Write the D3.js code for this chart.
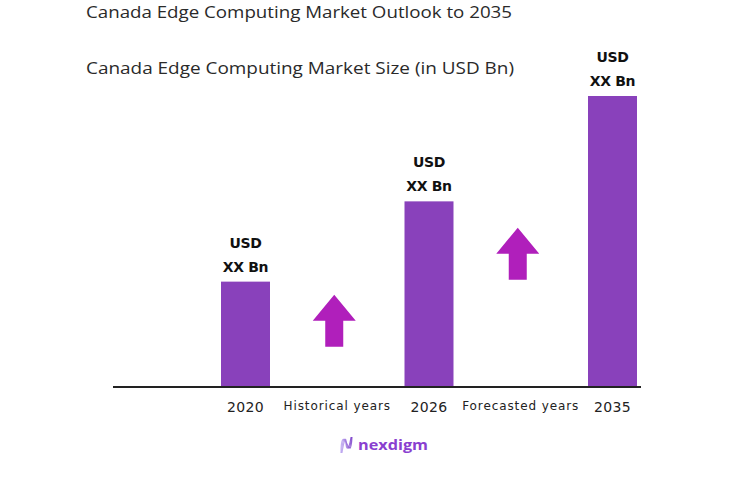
<!DOCTYPE html>
<html>
<head>
<meta charset="utf-8">
<script src="https://cdn.jsdelivr.net/npm/d3@7"></script>
<style>
  body { margin: 0; background: #fff; }
  svg { font-family: "Open Sans", "Liberation Sans", sans-serif; }
</style>
</head>
<body>
<div id="chart"></div>
<script>
// chart data
const slots = ["2020", "Historical years", "2026", "Forecasted years", "2035"];
const barYears = ["2020", "2026", "2035"];
const barValues = [105, 185, 290];          // relative heights, values shown as "XX"
const barLabels = ["USD", "XX Bn"];
const arrowSlots = ["Historical years", "Forecasted years"];
const arrowBase = [40, 107];                // where each growth arrow starts
const title = "Canada Edge Computing Market Outlook to 2035";
const subtitle = "Canada Edge Computing Market Size (in USD Bn)";

const width = 733, height = 480;
const barColor = "#8941bb", arrowColor = "#b01fbb";

const svg = d3.select("#chart")
  .append("svg")
  .attr("width", width)
  .attr("height", height);

const x = d3.scaleBand()
  .domain(slots)
  .range([221, 637])
  .paddingInner(0.466)
  .paddingOuter(0);

const y = d3.scaleLinear()
  .domain([0, 290])
  .range([387, 96]);

// titles
svg.append("text")
  .attr("x", 86).attr("y", 18)
  .attr("fill", "#2a2a2a")
  .style("font-size", "16px")
  .attr("textLength", 426).attr("lengthAdjust", "spacingAndGlyphs")
  .text(title);

svg.append("text")
  .attr("x", 86).attr("y", 74)
  .attr("fill", "#2a2a2a")
  .style("font-size", "16px")
  .attr("textLength", 428).attr("lengthAdjust", "spacingAndGlyphs")
  .text(subtitle);

// bars
const bars = barYears.map((d, i) => ({ year: d, value: barValues[i] }));

svg.append("g")
  .selectAll("rect")
  .data(bars)
  .join("rect")
  .attr("x", d => x(d.year))
  .attr("width", x.bandwidth())
  .attr("y", d => y(d.value))
  .attr("height", d => y(0) - y(d.value))
  .attr("fill", barColor);

// value labels above bars
const lbl = svg.append("g")
  .attr("text-anchor", "middle")
  .attr("fill", "#111")
  .style("font-family", "'DejaVu Sans', sans-serif")
  .style("font-size", "14px")
  .style("font-weight", "bold")
  .style("letter-spacing", "-0.3px");

lbl.selectAll("text.l1")
  .data(bars)
  .join("text")
  .attr("class", "l1")
  .attr("x", d => x(d.year) + x.bandwidth() / 2)
  .attr("y", d => y(d.value) - 34)
  .text(barLabels[0]);

lbl.selectAll("text.l2")
  .data(bars)
  .join("text")
  .attr("class", "l2")
  .attr("x", d => x(d.year) + x.bandwidth() / 2)
  .attr("y", d => y(d.value) - 10)
  .text(barLabels[1]);

// baseline
svg.append("line")
  .attr("x1", 113).attr("x2", 641)
  .attr("y1", y(0)).attr("y2", y(0))
  .attr("stroke", "#222")
  .attr("stroke-width", 2);

// x labels
svg.append("g")
  .attr("text-anchor", "middle")
  .attr("fill", "#222")
  .style("font-family", "'DejaVu Sans', sans-serif")
  .selectAll("text")
  .data(slots)
  .join("text")
  .attr("x", d => x(d) + x.bandwidth() / 2)
  .attr("y", d => barYears.includes(d) ? 412 : 410)
  .style("font-size", d => barYears.includes(d) ? "14px" : "12px")
  .style("letter-spacing", d => barYears.includes(d) ? "0.3px" : "0.9px")
  .text(d => d);

// growth arrows
const arrowPath = (cx, by) => {
  const hw = 21.5, hh = 26, sw = 9, sh = 26;
  return `M${cx - sw},${by} L${cx - sw},${by - sh} L${cx - hw},${by - sh}
          L${cx},${by - sh - hh} L${cx + hw},${by - sh} L${cx + sw},${by - sh}
          L${cx + sw},${by} Z`;
};

svg.append("g")
  .selectAll("path")
  .data(arrowSlots.map((d, i) => ({ slot: d, base: arrowBase[i] })))
  .join("path")
  .attr("d", d => arrowPath(x(d.slot) + x.bandwidth() / 2 - 3, y(d.base)))
  .attr("fill", arrowColor);

// logo
const logo = svg.append("g").attr("transform", "translate(340,436)");
const grad = svg.append("defs").append("linearGradient")
  .attr("id", "lg").attr("x1", "0%").attr("x2", "100%");
grad.append("stop").attr("offset", "0%").attr("stop-color", "#b9a2ef");
grad.append("stop").attr("offset", "100%").attr("stop-color", "#7b3fc9");

[0, 1.5, 3].forEach(o => {
  logo.append("path")
    .attr("d", `M${1 + o * 0.3},17 C${1 + o},4 ${3 + o},0 ${6},6 S${11 - o},18 ${12 - o * 0.3},1`)
    .attr("fill", "none")
    .attr("stroke", "url(#lg)")
    .attr("stroke-width", 1.2)
    .attr("opacity", 0.8);
});

logo.append("text")
  .attr("x", 18).attr("y", 14)
  .attr("fill", "#8a3fd0")
  .style("font-size", "15px")
  .style("font-weight", "bold")
  .attr("textLength", 70).attr("lengthAdjust", "spacingAndGlyphs")
  .text("nexdigm");
</script>
</body>
</html>
